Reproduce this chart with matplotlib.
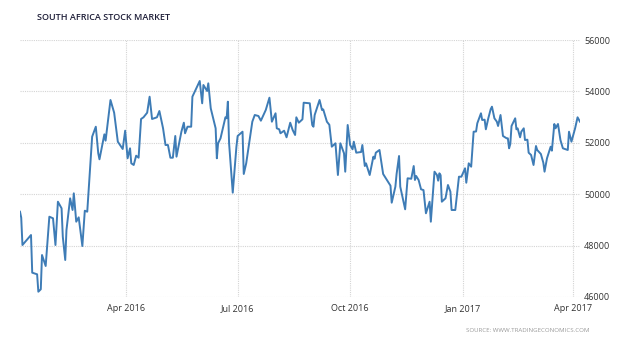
import matplotlib
matplotlib.use("Agg")
import matplotlib.pyplot as plt
import pandas as pd

# JSE all share index
dates = [
    "2016-01-05", "2016-01-06", "2016-01-07", "2016-01-14", "2016-01-15", "2016-01-19",
    "2016-01-20", "2016-01-22", "2016-01-23", "2016-01-26", "2016-01-29", "2016-02-01",
    "2016-02-03", "2016-02-05", "2016-02-08", "2016-02-09", "2016-02-11", "2016-02-12",
    "2016-02-15", "2016-02-17", "2016-02-18", "2016-02-20", "2016-02-22", "2016-02-25",
    "2016-02-27", "2016-02-29", "2016-03-04", "2016-03-07", "2016-03-09", "2016-03-10",
    "2016-03-14", "2016-03-15", "2016-03-19", "2016-03-22", "2016-03-25", "2016-03-29",
    "2016-03-31", "2016-04-02", "2016-04-04", "2016-04-05", "2016-04-07", "2016-04-09",
    "2016-04-11", "2016-04-13", "2016-04-15", "2016-04-18", "2016-04-20", "2016-04-22",
    "2016-04-26", "2016-04-28", "2016-05-01", "2016-05-03", "2016-05-05", "2016-05-07",
    "2016-05-09", "2016-05-11", "2016-05-12", "2016-05-16", "2016-05-18", "2016-05-19",
    "2016-05-21", "2016-05-24", "2016-05-25", "2016-05-31", "2016-06-02", "2016-06-03",
    "2016-06-06", "2016-06-07", "2016-06-09", "2016-06-13", "2016-06-14", "2016-06-15",
    "2016-06-17", "2016-06-21", "2016-06-22", "2016-06-23", "2016-06-24", "2016-06-27",
    "2016-06-30", "2016-07-01", "2016-07-05", "2016-07-06", "2016-07-08", "2016-07-13",
    "2016-07-15", "2016-07-18", "2016-07-20", "2016-07-24", "2016-07-27", "2016-07-29",
    "2016-08-01", "2016-08-02", "2016-08-04", "2016-08-05", "2016-08-08", "2016-08-10",
    "2016-08-13", "2016-08-15", "2016-08-17", "2016-08-18", "2016-08-20", "2016-08-23",
    "2016-08-24", "2016-08-29", "2016-08-31", "2016-09-01", "2016-09-02", "2016-09-06",
    "2016-09-08", "2016-09-09", "2016-09-12", "2016-09-14", "2016-09-16", "2016-09-19",
    "2016-09-21", "2016-09-23", "2016-09-26", "2016-09-27", "2016-09-29", "2016-10-01",
    "2016-10-03", "2016-10-04", "2016-10-06", "2016-10-10", "2016-10-11", "2016-10-13",
    "2016-10-14", "2016-10-17", "2016-10-20", "2016-10-21", "2016-10-22", "2016-10-25",
    "2016-10-28", "2016-11-03", "2016-11-04", "2016-11-07", "2016-11-08", "2016-11-10",
    "2016-11-11", "2016-11-15", "2016-11-17", "2016-11-20", "2016-11-22", "2016-11-23",
    "2016-11-24", "2016-11-26", "2016-11-28", "2016-11-30", "2016-12-02", "2016-12-05",
    "2016-12-06", "2016-12-09", "2016-12-11", "2016-12-12", "2016-12-13", "2016-12-14",
    "2016-12-15", "2016-12-18", "2016-12-20", "2016-12-22", "2016-12-23", "2016-12-26",
    "2016-12-29", "2016-12-31", "2017-01-03", "2017-01-04", "2017-01-06", "2017-01-08",
    "2017-01-10", "2017-01-12", "2017-01-13", "2017-01-16", "2017-01-17", "2017-01-19",
    "2017-01-20", "2017-01-22", "2017-01-24", "2017-01-25", "2017-01-27", "2017-01-29",
    "2017-01-30", "2017-02-01", "2017-02-03", "2017-02-06", "2017-02-07", "2017-02-08",
    "2017-02-09", "2017-02-10", "2017-02-13", "2017-02-14", "2017-02-15", "2017-02-17",
    "2017-02-18", "2017-02-20", "2017-02-21", "2017-02-23", "2017-02-24", "2017-02-26",
    "2017-02-28", "2017-03-02", "2017-03-03", "2017-03-06", "2017-03-08", "2017-03-09",
    "2017-03-11", "2017-03-14", "2017-03-15", "2017-03-17", "2017-03-18", "2017-03-20",
    "2017-03-22", "2017-03-24", "2017-03-28", "2017-03-29", "2017-03-31", "2017-04-03",
    "2017-04-05", "2017-04-07",
]
values = [
    49319, 49086, 48023, 48412, 46946, 46883,
    46206, 46300, 47634, 47206, 49125, 49062,
    48023, 49708, 49451, 48346, 47440, 48607,
    49840, 49385, 50034, 48930, 49100, 47984,
    49358, 49319, 52237, 52626, 51591, 51358,
    52330, 52082, 53665, 53171, 52043, 51759,
    52471, 51397, 51786, 51202, 51136, 51498,
    51420, 52926, 52992, 53171, 53794, 52926,
    52992, 53237, 52564, 51914, 51914, 51420,
    51420, 52265, 51460, 52432, 52782, 52370,
    52626, 52626, 53794, 54405, 53537, 54249,
    54016, 54315, 53342, 52564, 51397, 51981,
    52175, 52992, 52953, 53599, 51981, 50060,
    51848, 52265, 52432, 50786, 51202, 52821,
    53082, 53043, 52860, 53276, 53755, 52821,
    53148, 52564, 52525, 52370, 52471, 52214,
    52782, 52498, 52304, 52992, 52782, 52914,
    53560, 53537, 52693, 52626, 53082, 53665,
    53276, 53300, 52821, 52700, 51848, 51981,
    50747, 51981, 51591, 50876, 52693, 51914,
    51747, 52043, 51615, 51642, 51914, 51097,
    51200, 50747, 51460, 51380, 51615, 51720,
    50786, 50331, 49669, 50292, 50786, 51486,
    50292, 49412, 50619, 50600, 51097, 50553,
    50708, 50553, 50191, 50160, 49257, 49708,
    48930, 50876, 50747, 50526, 50813, 50740,
    49708, 49840, 50358, 50098, 49385, 49385,
    50681, 50681, 51008, 50447, 51202, 51070,
    52432, 52440, 52759, 53148, 52887, 52900,
    52525, 52953, 53315, 53405, 52953, 52821,
    52654, 53082, 52265, 52175, 52175, 51786,
    51953, 52654, 52953, 52525, 52560, 52214,
    52432, 52564, 52109, 52120, 51615, 51525,
    51136, 51875, 51720, 51564, 51226, 50876,
    51397, 51848, 51693, 52732, 52564, 52732,
    52109, 51786, 51720, 52432, 52043, 52564,
    52992, 52821,
]
tick_dates = ["2016-04-01", "2016-07-01", "2016-10-01", "2017-01-01", "2017-04-01"]
tick_labels = ["Apr 2016", "Jul 2016", "Oct 2016", "Jan 2017", "Apr 2017"]
y_ticks = [46000, 48000, 50000, 52000, 54000, 56000]

plt.rcParams["font.family"] = ["Open Sans", "DejaVu Sans"]

x = pd.to_datetime(dates)

fig = plt.figure(figsize=(6.4, 3.51), dpi=100)
ax = fig.add_axes([20 / 640, 1 - 297 / 351, 560 / 640, 257 / 351])

ax.plot(x, values, color="#3e7cb6", linewidth=1.4, solid_joinstyle="round")

ax.set_xlim(x[0], x[-1])
ax.set_ylim(46000, 56000)
ax.set_xticks(pd.to_datetime(tick_dates))
ax.set_xticklabels(tick_labels)
ax.set_yticks(y_ticks)
ax.set_yticklabels([str(v) for v in y_ticks])
ax.yaxis.tick_right()
ax.tick_params(axis="both", length=0, labelsize=6.5, colors="#333333")
ax.tick_params(axis="x", pad=5)
ax.tick_params(axis="y", pad=3)

ax.grid(True, color="#d4d4d4", linestyle=(0, (1, 1)), linewidth=0.8)
ax.set_axisbelow(True)
for s in ax.spines.values():
    s.set_visible(False)

fig.text(37 / 640, 1 - 17 / 351, "SOUTH AFRICA STOCK MARKET", fontsize=6.5,
         fontweight="semibold", color="#1e1e38", va="center", ha="left")
fig.text(589 / 640, 1 - 330 / 351, "SOURCE: WWW.TRADINGECONOMICS.COM", fontsize=4.4,
         color="#999999", va="center", ha="right")

fig.savefig("out.png", dpi=100)
